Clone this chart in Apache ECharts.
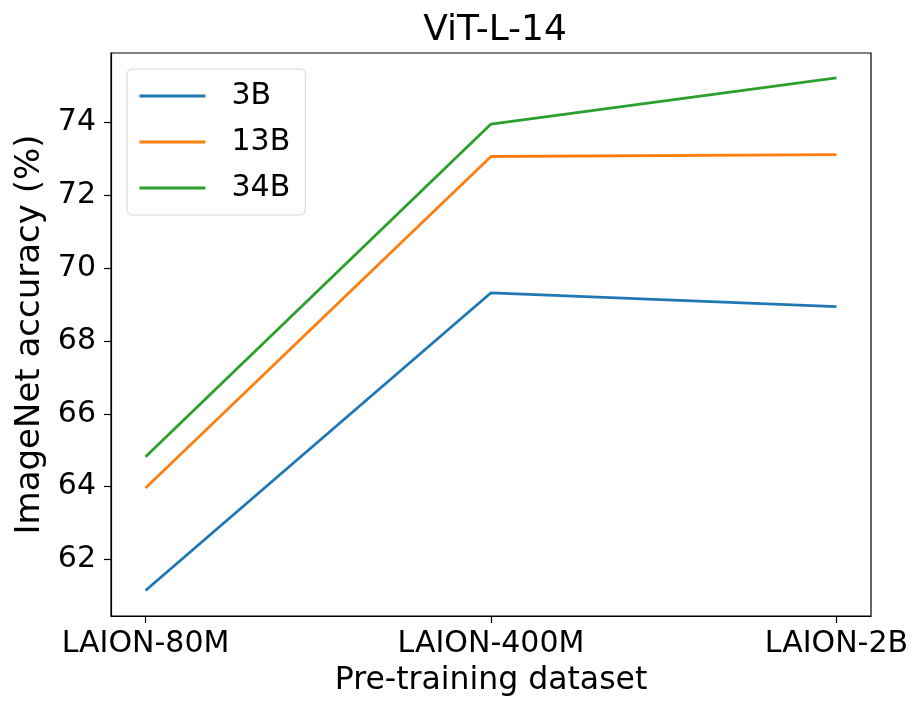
<!DOCTYPE html>
<html>
<head>
<meta charset="utf-8">
<script src="https://cdn.jsdelivr.net/npm/echarts@6/dist/echarts.min.js"></script>
<style>html,body{margin:0;padding:0;background:#fff}#c{width:914px;height:702px}</style>
</head>
<body>
<div id="c"></div>
<script>
const categories = ['LAION-80M', 'LAION-400M', 'LAION-2B'];
const seriesNames = ['3B', '13B', '34B'];
const values3B = [61.15, 69.32, 68.94];
const values13B = [63.96, 73.06, 73.11];
const values34B = [64.82, 73.95, 75.22];
const yTicks = [62, 64, 66, 68, 70, 72, 74];
const colors = ['#1f77b4', '#ff7f0e', '#2ca02c'];

const allValues = [values3B, values13B, values34B];
const font = 'DejaVu Sans';
const chart = echarts.init(document.getElementById('c'), null, {renderer: 'canvas'});
chart.setOption({
  animation: false,
  backgroundColor: '#fff',
  title: {
    text: 'ViT-L-14', left: 490, top: 8, textAlign: 'center',
    textStyle: {fontFamily: font, fontSize: 36, fontWeight: 'normal', color: '#000'}
  },
  grid: {left: 111, right: 43, top: 53, bottom: 83, show: true, borderColor: '#000', borderWidth: 1.2, containLabel: false},
  legend: {
    orient: 'vertical', left: 127, top: 69,
    data: seriesNames,
    itemWidth: 66, itemHeight: 14, itemGap: 14,
    padding: [11, 15, 11, 11],
    backgroundColor: 'rgba(255,255,255,0.85)',
    borderColor: '#d6d6d6', borderWidth: 1, borderRadius: 5,
    itemStyle: {opacity: 0},
    lineStyle: {width: 3},
    textStyle: {fontFamily: font, fontSize: 30, color: '#000', padding: [0, 0, 0, 21], lineHeight: 32}
  },
  xAxis: {
    type: 'value', min: -0.1, max: 2.1,
    name: 'Pre-training dataset', nameLocation: 'middle', nameGap: 49,
    nameTextStyle: {fontFamily: font, fontSize: 31.5, color: '#000'},
    axisLine: {show: true, onZero: false, lineStyle: {color: '#000', width: 1.2}},
    axisTick: {show: true, length: 7, lineStyle: {color: '#000', width: 1.2}, customValues: [0, 1, 2]},
    axisLabel: {fontFamily: font, fontSize: 30, color: '#000', margin: 13, customValues: [0, 1, 2],
      formatter: v => categories[Math.round(v)]},
    splitLine: {show: false}
  },
  yAxis: {
    type: 'value', min: 60.45, max: 75.9,
    name: 'ImageNet accuracy (%)', nameLocation: 'middle', nameGap: 64,
    nameTextStyle: {fontFamily: font, fontSize: 34, color: '#000'},
    axisLine: {show: true, onZero: false, lineStyle: {color: '#000', width: 1.2}},
    axisTick: {show: true, length: 7, lineStyle: {color: '#000', width: 1.2}, customValues: yTicks},
    axisLabel: {fontFamily: font, fontSize: 30, color: '#000', margin: 15, customValues: yTicks},
    splitLine: {show: false}
  },
  series: seriesNames.map((n, i) => ({
    name: n, type: 'line', symbol: 'none',
    data: allValues[i].map((v, j) => [j, v]),
    lineStyle: {color: colors[i], width: 2.8},
    itemStyle: {color: colors[i]}
  }))
});
</script>
</body>
</html>
